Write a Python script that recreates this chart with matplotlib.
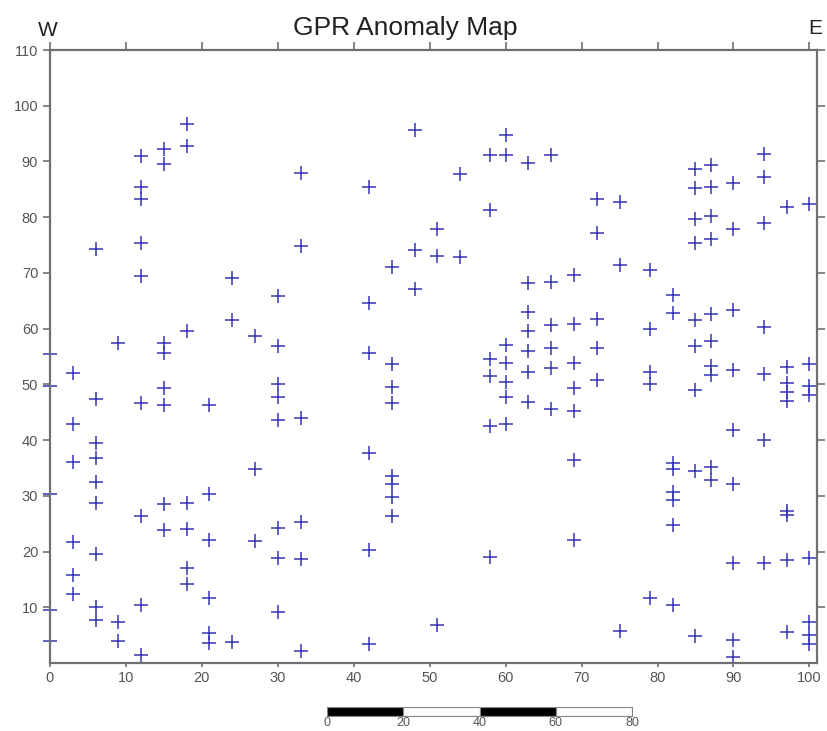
import matplotlib
matplotlib.use("Agg")
import matplotlib.pyplot as plt
import numpy as np

plt.rcParams['font.family'] = ['Liberation Sans', 'DejaVu Sans']

# Survey columns (east, metres) and anomaly positions (north, metres)
col_x = [0, 3, 6, 9, 12, 15, 18, 21, 24, 27, 30, 33, 42, 45, 48, 51, 54, 58,
         60, 63, 66, 69, 72, 75, 79, 82, 85, 87, 90, 94, 97, 100]
col_y = [
    [55.5, 49.7, 30.4, 9.5, 4.0],
    [52.1, 42.8, 36.1, 21.7, 15.8, 12.4],
    [74.3, 47.4, 39.4, 36.7, 32.5, 28.8, 19.6, 10.0, 7.7],
    [57.5, 7.4, 4.0],
    [90.9, 85.5, 83.3, 75.3, 69.4, 46.6, 26.4, 10.4, 1.4],
    [92.2, 89.5, 57.5, 55.6, 49.4, 46.3, 28.5, 23.8],
    [96.8, 92.8, 59.5, 28.8, 24.1, 17.0, 14.2],
    [46.3, 30.3, 22.1, 11.7, 5.3, 3.6],
    [69.1, 61.6, 3.8],
    [58.6, 34.9, 21.9],
    [65.8, 56.8, 50.0, 47.8, 43.6, 24.2, 18.8, 9.2],
    [87.9, 74.9, 44.0, 25.3, 18.7, 2.1],
    [85.4, 64.6, 55.7, 37.7, 20.3, 3.4],
    [71.0, 53.6, 49.6, 46.6, 33.6, 32.1, 29.8, 26.4],
    [95.6, 74.2, 67.2],
    [77.9, 73.1, 6.8],
    [87.7, 72.9],
    [91.1, 81.2, 54.6, 51.5, 42.5, 19.1],
    [94.7, 91.1, 57.1, 53.8, 50.5, 47.7, 42.9],
    [89.8, 68.1, 62.9, 59.5, 56.0, 52.3, 46.8],
    [91.2, 68.4, 60.6, 56.6, 52.9, 45.5],
    [69.7, 60.8, 53.8, 49.4, 45.3, 36.5, 22.0],
    [83.3, 77.1, 61.7, 56.6, 50.7],
    [82.8, 71.5, 5.8],
    [70.5, 60.0, 52.2, 50.0, 11.6],
    [66.1, 62.8, 35.8, 34.8, 30.6, 29.2, 24.8, 10.4],
    [88.6, 85.2, 79.7, 75.3, 61.5, 56.8, 49.0, 34.5, 4.8],
    [89.3, 85.4, 80.2, 76.0, 62.6, 57.8, 53.3, 51.6, 35.2, 32.8],
    [86.2, 77.9, 63.3, 52.5, 41.9, 32.2, 17.9, 4.1, 1.0],
    [91.3, 87.3, 79.0, 60.3, 51.9, 40.0, 18.0],
    [81.8, 53.2, 50.2, 48.7, 47.0, 27.3, 26.5, 18.4, 5.5],
    [82.4, 53.7, 49.7, 48.1, 18.9, 7.4, 5.1, 3.4],
]
x_ticks = [0, 10, 20, 30, 40, 50, 60, 70, 80, 90, 100]
y_ticks = [10, 20, 30, 40, 50, 60, 70, 80, 90, 100, 110]
scale_ticks = [0, 20, 40, 60, 80]
scale_fill = ['black', 'white', 'black', 'white']

xs = []
ys = []
for cx, cys in zip(col_x, col_y):
    for v in cys:
        xs.append(cx)
        ys.append(v)

W, H = 827, 731
fig = plt.figure(figsize=(W / 100, H / 100), dpi=100)
ax = fig.add_axes([50 / W, 1 - 663 / H, 767 / W, 613 / H])

spine_c = '#707070'
ax.plot(xs, ys, linestyle='none', marker='+', markersize=10, markeredgewidth=1.1,
        color='#3535b5', clip_on=False, zorder=1)
ax.set_xlim(0, 101)
ax.set_ylim(0, 110)
ax.set_xticks(x_ticks)
ax.set_yticks(y_ticks)
for s in ax.spines.values():
    s.set_color(spine_c)
    s.set_linewidth(1.6)
    s.set_zorder(3)
ax.tick_params(axis='both', colors=spine_c, labelcolor='#555555', labelsize=10.5,
               length=5, width=1.2, direction='out')
ax.tick_params(axis='x', length=3, pad=3)
ax.tick_params(top=True, right=True, labeltop=False, labelright=False)
for t in ax.xaxis.get_major_ticks():
    t.tick2line.set_markersize(6)
for t in ax.yaxis.get_major_ticks():
    t.tick2line.set_markersize(6)

fig.text(405 / W, 1 - 28 / H, 'GPR Anomaly Map', ha='center', va='center',
         fontsize=19, color='#222222')
fig.text(48 / W, 1 - 31 / H, 'W', ha='center', va='center', fontsize=15, color='#222222')
fig.text(815 / W, 1 - 29 / H, 'E', ha='center', va='center', fontsize=15, color='#222222')

# scale bar
sax = fig.add_axes([327 / W, 1 - 716 / H, 305 / W, 9 / H])
for i in range(len(scale_ticks) - 1):
    sax.barh(0, scale_ticks[i + 1] - scale_ticks[i], left=scale_ticks[i], height=1,
             color=scale_fill[i], edgecolor='#888888', linewidth=0.8)
sax.set_xlim(scale_ticks[0], scale_ticks[-1])
sax.set_ylim(-0.5, 0.5)
sax.set_yticks([])
sax.set_xticks(scale_ticks)
sax.tick_params(axis='x', length=0, pad=1, labelsize=9, labelcolor='#555555')
for s in sax.spines.values():
    s.set_color('#888888')
    s.set_linewidth(0.8)

fig.savefig('out.png', dpi=100)
